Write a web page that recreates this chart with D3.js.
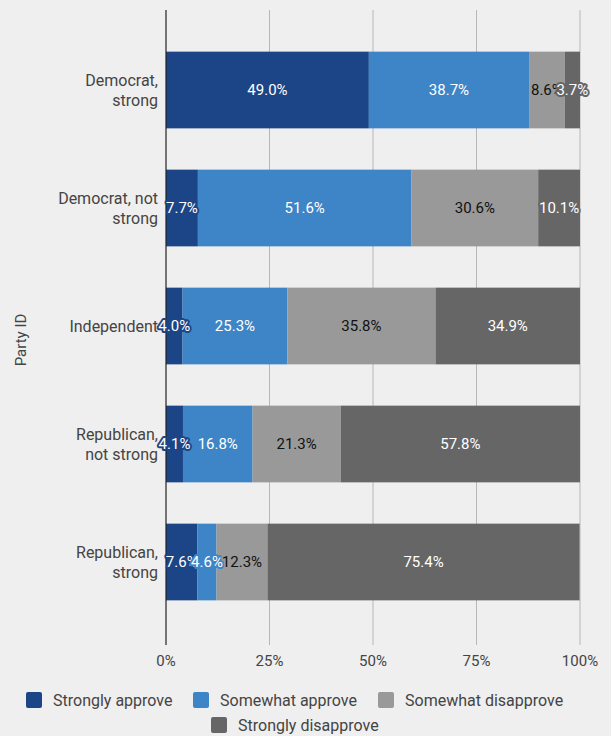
<!DOCTYPE html>
<html>
<head>
<meta charset="utf-8">
<script src="https://cdn.jsdelivr.net/npm/d3@7"></script>
<style>
  body { margin: 0; background: #efefef; }
  svg { font-family: Roboto, sans-serif; display: block; }
</style>
</head>
<body>
<svg id="chart"></svg>
<script>
// party groups, top to bottom
const categories = [
    ['Democrat,', 'strong'],
    ['Democrat, not', 'strong'],
    ['Independent'],
    ['Republican,', 'not strong'],
    ['Republican,', 'strong']
]
const seriesNames = ['Strongly approve', 'Somewhat approve', 'Somewhat disapprove', 'Strongly disapprove']
const stronglyApprove = [49.0, 7.7, 4.0, 4.1, 7.6]
const somewhatApprove = [38.7, 51.6, 25.3, 16.8, 4.6]
const somewhatDisapprove = [8.6, 30.6, 35.8, 21.3, 12.3]
const stronglyDisapprove = [3.7, 10.1, 34.9, 57.8, 75.4]
const ticks = [0, 25, 50, 75, 100]

const colours = ['#1c4587', '#3d85c6', '#999999', '#666666']
const textColours = ['#ffffff', '#ffffff', '#111111', '#ffffff']

const width = 611
const height = 736
const margin = { top: 10, left: 166, right: 31 }

const svg = d3.select('#chart')
    .attr('width', width)
    .attr('height', height)

svg.append('rect')
    .attr('width', width)
    .attr('height', height)
    .attr('fill', '#efefef')

const keys = categories.map((c, i) => i)
const rows = keys.map(i => ({
    key: i,
    0: stronglyApprove[i],
    1: somewhatApprove[i],
    2: somewhatDisapprove[i],
    3: stronglyDisapprove[i]
}))
const stacked = d3.stack().keys([0, 1, 2, 3])(rows)

const x = d3.scaleLinear()
    .domain([0, 100])
    .range([margin.left, width - margin.right])

const y = d3.scaleBand()
    .domain(keys)
    .range([31, 621])
    .paddingInner(0.35)
    .paddingOuter(0.175)

// grid lines
svg.append('g')
    .selectAll('line')
    .data(ticks.slice(1))
    .join('line')
    .attr('x1', d => x(d))
    .attr('x2', d => x(d))
    .attr('y1', margin.top)
    .attr('y2', 645)
    .attr('stroke', '#b7b7b7')
    .attr('stroke-width', 1)

// tick labels
svg.append('g')
    .selectAll('text')
    .data(ticks)
    .join('text')
    .attr('x', d => x(d))
    .attr('y', 666)
    .attr('text-anchor', 'middle')
    .attr('fill', '#444')
    .style('font-size', '15px')
    .text(d => d + '%')

// bars
const layers = svg.append('g')
    .selectAll('g')
    .data(stacked)
    .join('g')
    .attr('fill', (d, i) => colours[i])

layers.selectAll('rect')
    .data(d => d)
    .join('rect')
    .attr('x', d => x(d[0]))
    .attr('width', d => x(d[1]) - x(d[0]))
    .attr('y', (d, i) => y(i))
    .attr('height', y.bandwidth())

// zero axis
svg.append('line')
    .attr('x1', x(0))
    .attr('x2', x(0))
    .attr('y1', margin.top)
    .attr('y2', 645)
    .attr('stroke', '#222')
    .attr('stroke-width', 1.2)

// value labels with a halo in the segment colour
stacked.forEach((layer, s) => {
    svg.append('g')
        .selectAll('text')
        .data(layer)
        .join('text')
        .attr('x', d => x((d[0] + d[1]) / 2))
        .attr('y', (d, i) => y(i) + y.bandwidth() / 2)
        .attr('dy', '0.35em')
        .attr('text-anchor', 'middle')
        .style('font-size', '15px')
        .style('paint-order', 'stroke')
        .attr('stroke', colours[s])
        .attr('stroke-width', 4)
        .attr('stroke-linejoin', 'round')
        .attr('fill', textColours[s])
        .text(d => (d[1] - d[0]).toFixed(1) + '%')
})

// category labels
const catText = svg.append('g')
    .selectAll('text')
    .data(categories)
    .join('text')
    .attr('x', 158)
    .attr('y', (d, i) => y(i) + y.bandwidth() / 2)
    .attr('text-anchor', 'end')
    .attr('fill', '#444')
    .style('font-size', '16px')

catText.selectAll('tspan')
    .data(d => d.map((t, j) => ({ t, j, n: d.length })))
    .join('tspan')
    .attr('x', 158)
    .attr('dy', d => d.j === 0 ? (0.35 - (d.n - 1) * 0.625) + 'em' : '1.25em')
    .text(d => d.t)

// axis title
svg.append('text')
    .attr('transform', 'translate(26,340) rotate(-90)')
    .attr('text-anchor', 'middle')
    .attr('fill', '#444')
    .style('font-size', '15px')
    .text('Party ID')

// legend
const legendPos = [[26, 700], [193, 700], [378, 700], [211, 725]]
const legend = svg.append('g')
    .selectAll('g')
    .data(seriesNames)
    .join('g')
    .attr('transform', (d, i) => `translate(${legendPos[i][0]},${legendPos[i][1]})`)

legend.append('rect')
    .attr('x', 0)
    .attr('y', -8)
    .attr('width', 16)
    .attr('height', 16)
    .attr('rx', 2)
    .attr('fill', (d, i) => colours[i])

legend.append('text')
    .attr('x', 27)
    .attr('dy', '0.35em')
    .attr('fill', '#444')
    .style('font-size', '16px')
    .text(d => d)
</script>
</body>
</html>
